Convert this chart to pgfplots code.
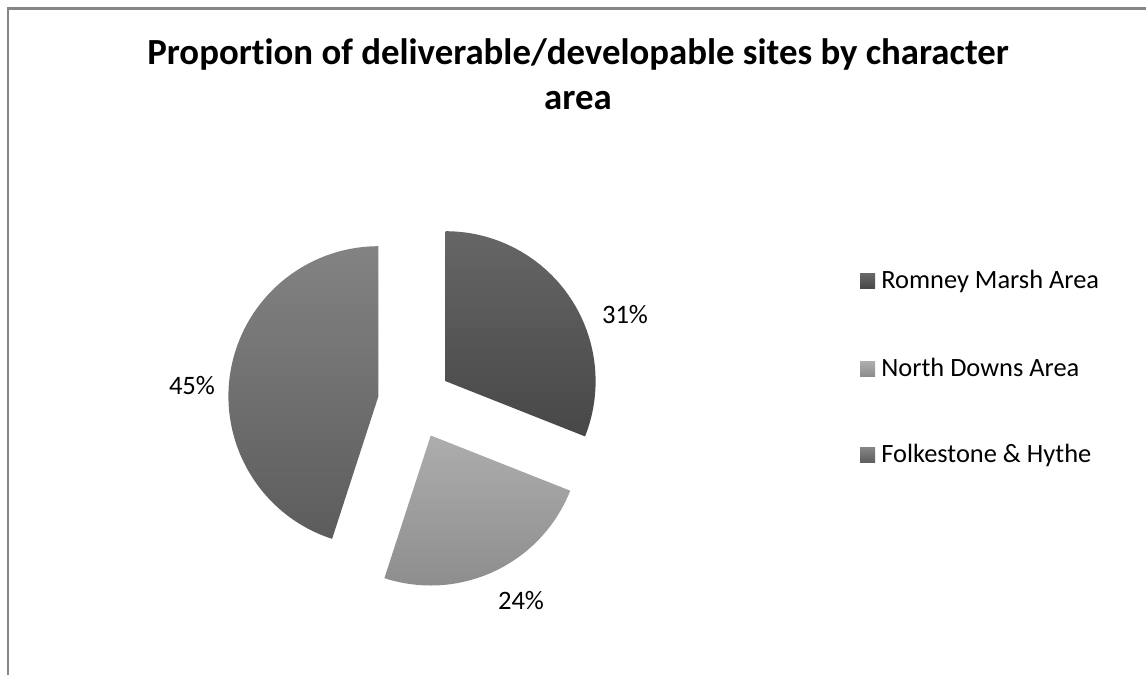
\documentclass[border=0pt]{standalone}
\usepackage{fontspec}
\setmainfont[RawFeature={-liga;-calt;-clig}]{Carlito}
\usepackage{pgfplots}
\usepackage{pgfplotstable}
\pgfplotsset{compat=1.18}

\definecolor{rmT}{HTML}{666666}
\definecolor{rmB}{HTML}{474747}
\definecolor{ndT}{HTML}{ADADAD}
\definecolor{ndB}{HTML}{8A8A8A}
\definecolor{fhT}{HTML}{838383}
\definecolor{fhB}{HTML}{5C5C5C}
\definecolor{frame}{HTML}{868686}

% value (%), top colour, bottom colour, label x, label baseline y (axis units = px)
\pgfplotstableread{
value topc botc lx ly
31 rmT rmB 625 351
24 ndT ndB 521 66
45 fhT fhB 192 280
}\piedata

\def\cx{415}
\def\cy{273}
\def\rad{150}
\def\expl{37}

\gdef\cum{0}
\pgfplotsforeachungrouped \i in {0,1,2}{%
  \pgfplotstablegetelem{\i}{value}\of\piedata \let\v=\pgfplotsretval
  \pgfplotstablegetelem{\i}{topc}\of\piedata \expandafter\xdef\csname tc\i\endcsname{\pgfplotsretval}%
  \pgfplotstablegetelem{\i}{botc}\of\piedata \expandafter\xdef\csname bc\i\endcsname{\pgfplotsretval}%
  \pgfplotstablegetelem{\i}{lx}\of\piedata \expandafter\xdef\csname lx\i\endcsname{\pgfplotsretval}%
  \pgfplotstablegetelem{\i}{ly}\of\piedata \expandafter\xdef\csname ly\i\endcsname{\pgfplotsretval}%
  \expandafter\xdef\csname val\i\endcsname{\v}%
  \pgfmathsetmacro\s{90-3.6*\cum}%
  \pgfmathsetmacro\e{\s-3.6*\v}%
  \pgfmathsetmacro\m{(\s+\e)/2}%
  \pgfmathsetmacro\ox{\cx+\expl*cos(\m)}%
  \pgfmathsetmacro\oy{\cy+\expl*sin(\m)}%
  \pgfmathsetmacro\px{\ox+\rad*cos(\s)}%
  \pgfmathsetmacro\py{\oy+\rad*sin(\s)}%
  \expandafter\xdef\csname s\i\endcsname{\s}%
  \expandafter\xdef\csname e\i\endcsname{\e}%
  \expandafter\xdef\csname ox\i\endcsname{\ox}%
  \expandafter\xdef\csname oy\i\endcsname{\oy}%
  \expandafter\xdef\csname px\i\endcsname{\px}%
  \expandafter\xdef\csname py\i\endcsname{\py}%
  \pgfmathsetmacro\newcum{\cum+\v}%
  \xdef\cum{\newcum}%
}

\begin{document}
\begin{tikzpicture}
\path[use as bounding box] (0,0) rectangle (573pt,337.5pt);
\begin{axis}[
  x=0.5pt, y=0.5pt,
  xmin=0, xmax=1146, ymin=0, ymax=675,
  hide axis, clip=false,
  anchor=origin, at={(0,0)},
]
% frame lines
\draw[frame, line width=1.2pt] (axis cs:8,0) -- (axis cs:8,666.5) -- (axis cs:1146,666.5);

% slices
\pgfplotsinvokeforeach{0,1,2}{%
  \edef\temp{\noexpand\shade[top color=\csname tc#1\endcsname, bottom color=\csname bc#1\endcsname]
    (axis cs:\csname ox#1\endcsname,\csname oy#1\endcsname) --
    (axis cs:\csname px#1\endcsname,\csname py#1\endcsname)
    arc[start angle=\csname s#1\endcsname, end angle=\csname e#1\endcsname, radius=75pt] -- cycle;
    \noexpand\node[anchor=base, font=\noexpand\fontsize{13.3pt}{16pt}\noexpand\selectfont, inner sep=0pt]
      at (axis cs:\csname lx#1\endcsname,\csname ly#1\endcsname) {\csname val#1\endcsname\noexpand\%};}%
  \temp
}

% title
\node[anchor=base, font=\fontsize{18.4pt}{21pt}\selectfont\bfseries, inner sep=0pt] at (axis cs:578,610)
  {Proportion of deliverable/developable sites by character};
\node[anchor=base, font=\fontsize{18.4pt}{21pt}\selectfont\bfseries, inner sep=0pt] at (axis cs:578,565) {area};

% legend
\shade[top color=rmT, bottom color=rmB] (axis cs:860,386) rectangle (axis cs:875,401);
\node[anchor=base west, font=\fontsize{13.2pt}{16pt}\selectfont, inner sep=0pt] at (axis cs:881,386) {Romney Marsh Area};
\shade[top color=ndT, bottom color=ndB] (axis cs:860,298) rectangle (axis cs:875,313);
\node[anchor=base west, font=\fontsize{13.2pt}{16pt}\selectfont, inner sep=0pt] at (axis cs:881,298) {North Downs Area};
\shade[top color=fhT, bottom color=fhB] (axis cs:860,212) rectangle (axis cs:875,227);
\node[anchor=base west, font=\fontsize{13.2pt}{16pt}\selectfont, inner sep=0pt] at (axis cs:881,212) {Folkestone \& Hythe};
\end{axis}
\end{tikzpicture}
\end{document}
